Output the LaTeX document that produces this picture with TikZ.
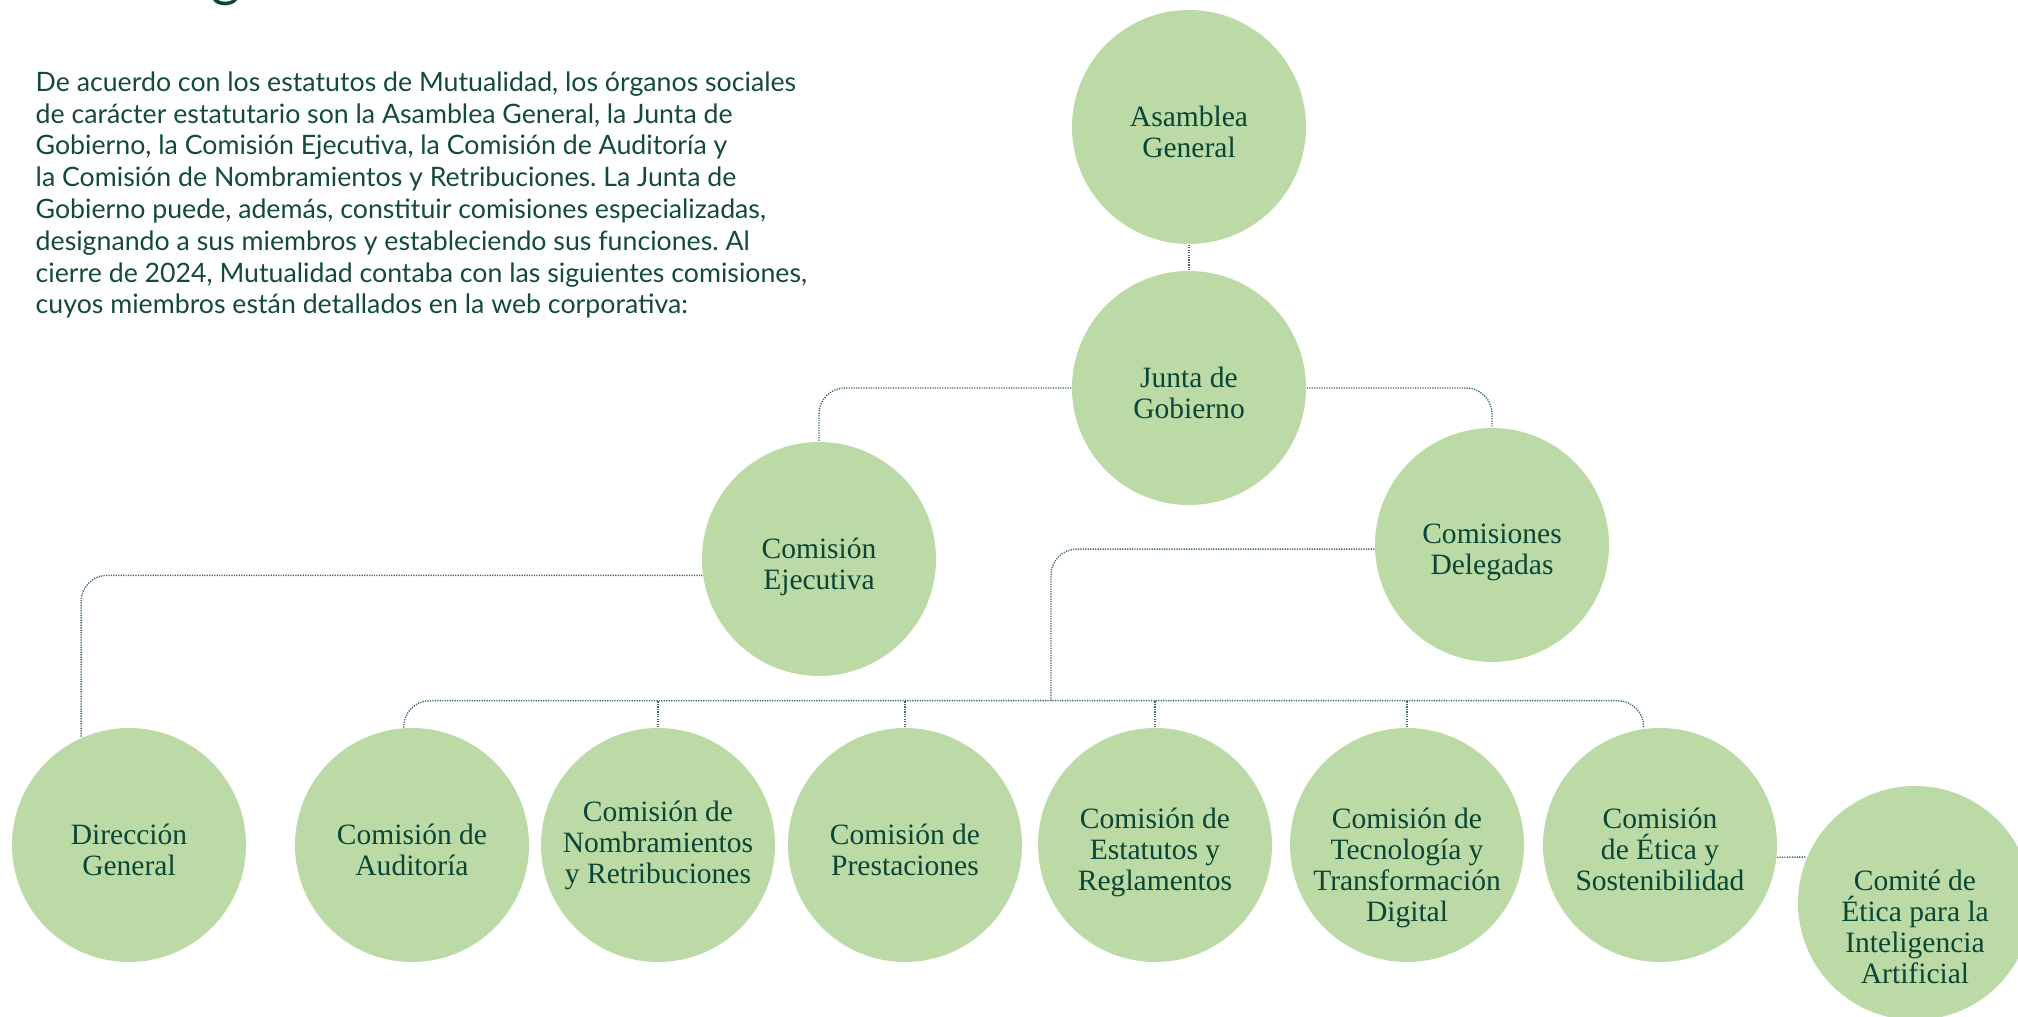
\documentclass[tikz,border=0pt]{standalone}
\usepackage{fontspec}
\setmainfont{Liberation Serif}
\setsansfont{Lato}
\frenchspacing
\definecolor{orgfill}{HTML}{BCDAA6}
\definecolor{orgtext}{HTML}{0A4635}
\definecolor{introtext}{HTML}{134A3B}
\definecolor{linkcol}{HTML}{3A6A5E}
\begin{document}
\begin{tikzpicture}[x=1mm,y=-1mm,
	org/.style={circle,fill=orgfill,minimum size=23.4mm,inner sep=0pt},
	orgtxt/.style={align=center,text=orgtext,inner sep=0pt,yshift=-0.45mm,font=\fontsize{8.4}{8.8}\selectfont},
	link/.style={draw=linkcol,line width=0.4pt,dash pattern=on 0.35pt off 0.35pt,rounded corners=2.6mm}]
	\useasboundingbox (0,0) rectangle (201.8,101.7);
	\clip (0,0) rectangle (201.8,101.7);

	\node[font=\sffamily\fontsize{16}{16}\selectfont,text=orgtext,anchor=base,inner sep=0pt] (headg) at (22.6,-0.45) {g};
	\node[font=\sffamily\fontsize{7.6}{9.05}\selectfont,text=introtext,align=left,anchor=base west,inner sep=0pt] (intro) at (3.5,31.4)
		{De acuerdo con los estatutos de Mutualidad, los órganos sociales\\
		de carácter estatutario son la Asamblea General, la Junta de\\
		Gobierno, la Comisión Ejecutiva, la Comisión de Auditoría y\\
		la Comisión de Nombramientos y Retribuciones. La Junta de\\
		Gobierno puede, además, constituir comisiones especializadas,\\
		designando a sus miembros y estableciendo sus funciones. Al\\
		cierre de 2024, Mutualidad contaba con las siguientes comisiones,\\
		cuyos miembros están detallados en la web corporativa:};

	\node[org,label={[orgtxt]center:{Asamblea\\General}}] (asam) at (118.9,12.7) {};
	\node[org,label={[orgtxt]center:{Junta de\\Gobierno}}] (junta) at (118.9,38.8) {};
	\node[org,label={[orgtxt,yshift=-0.35mm]center:{Comisión\\Ejecutiva}}] (ejec) at (81.9,55.9) {};
	\node[org,label={[orgtxt,yshift=-0.25mm]center:{Comisiones\\Delegadas}}] (deleg) at (149.2,54.5) {};

	\node[org,label={[orgtxt]center:{Dirección\\General}}] (dir) at (12.9,84.5) {};
	\node[org,label={[orgtxt]center:{Comisión de\\Auditoría}}] (aud) at (41.2,84.5) {};
	\node[org,label={[orgtxt,yshift=0.45mm]center:{Comisión de\\Nombramientos\\y Retribuciones}}] (nom) at (65.8,84.5) {};
	\node[org,label={[orgtxt]center:{Comisión de\\Prestaciones}}] (pre) at (90.5,84.5) {};
	\node[org,label={[orgtxt,yshift=-0.3mm]center:{Comisión de\\Estatutos y\\Reglamentos}}] (est) at (115.5,84.5) {};
	\node[org,label={[orgtxt,yshift=-1.85mm]center:{Comisión de\\Tecnología y\\Transformación\\Digital}}] (tec) at (140.7,84.5) {};
	\node[org,label={[orgtxt]center:{Comisión\\de Ética y\\Sostenibilidad}}] (eti) at (166.0,84.5) {};
	\node[org,label={[orgtxt,yshift=-1.95mm]center:{Comité de\\Ética para la\\Inteligencia\\Artificial}}] (ia) at (191.5,90.3) {};

	\coordinate (bus) at (105.1,70.07);

	\draw[link] (asam) -- (junta);
	\draw[link] (junta.west) -| (ejec.north);
	\draw[link] (junta.east) -| (deleg.north);
	\draw[link] (ejec.188) -| (dir.114);
	\draw[link] (deleg.182) -| (bus);
	\draw[link] (aud.94) |- (bus) -| (eti.98);
	\foreach \n in {nom,pre,est,tec}
		\draw[link] (\n.north) -- (\n.north |- bus);
	\draw[link] (eti.-6) -- (ia.157);
\end{tikzpicture}
\end{document}
